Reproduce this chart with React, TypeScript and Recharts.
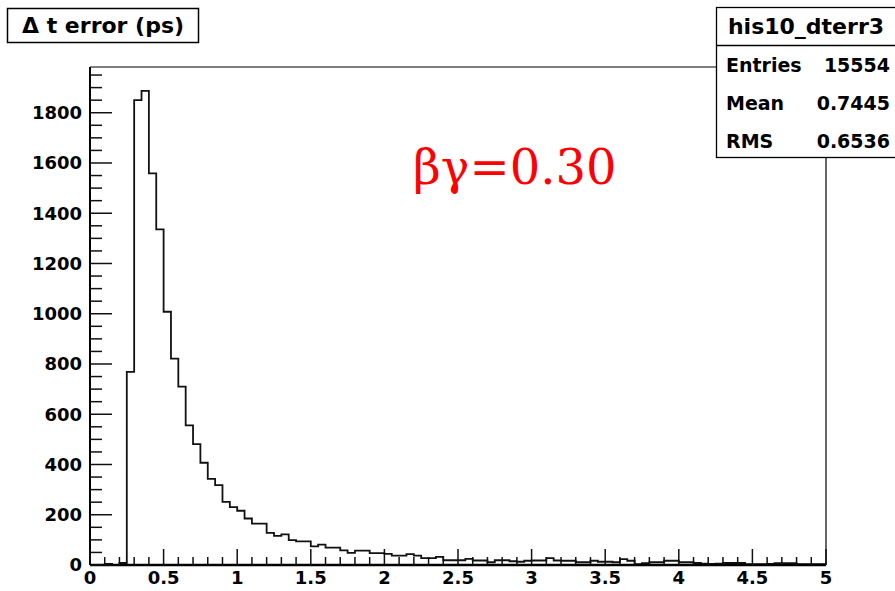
import { LineChart, Line, XAxis, YAxis, ReferenceLine } from 'recharts'

// bin contents of his10_dterr3, 100 bins of 0.05 from 0 to 5
const COUNTS = [
  0, 0, 4, 0, 8, 769, 1850, 1887, 1559, 1336,
  1008, 821, 710, 556, 481, 407, 343, 318, 251, 230,
  216, 185, 165, 165, 128, 116, 122, 99, 94, 94,
  74, 81, 69, 69, 58, 48, 57, 57, 47, 47,
  44, 37, 37, 43, 37, 27, 27, 32, 19, 19,
  19, 24, 18, 18, 11, 19, 19, 15, 13, 17,
  18, 18, 27, 18, 17, 17, 11, 11, 17, 13,
  13, 11, 23, 17, 3, 7, 11, 11, 17, 17,
  11, 11, 8, 5, 4, 5, 8, 8, 8, 3,
  3, 3, 4, 7, 7, 7, 3, 3, 3, 3,
]
const BIN_WIDTH = 0.05
const X_MAJOR = [0, 0.5, 1, 1.5, 2, 2.5, 3, 3.5, 4, 4.5, 5]
const Y_MAJOR = [0, 200, 400, 600, 800, 1000, 1200, 1400, 1600, 1800]
const Y_MAX = 1982

const STATS = [
  { label: 'Entries', value: '15554' },
  { label: 'Mean', value: '0.7445' },
  { label: 'RMS', value: '0.6536' },
]

const data = [
  ...COUNTS.map((c, i) => ({ x: +(i * BIN_WIDTH).toFixed(2), count: c })),
  { x: 5, count: COUNTS[COUNTS.length - 1] },
]

// minor ticks: 0.1 on x, 50 on y
const xTicks = Array.from({ length: 51 }, (_, i) => +(i * 0.1).toFixed(1))
const yTicks = Array.from({ length: 40 }, (_, i) => i * 50)

const FONT = '"DejaVu Sans", sans-serif'

const XTick = (props: any) => {
  const { x, y, payload } = props
  const v = payload.value
  const major = X_MAJOR.some((m) => Math.abs(m - v) < 1e-6)
  return (
    <g>
      <line x1={x} y1={y} x2={x} y2={y - (major ? 16 : 8)} stroke="#111" strokeWidth={1.5} />
      {major && (
        <text x={x} y={y + 19} textAnchor="middle" fontFamily={FONT} fontWeight="bold" fontSize={18} fill="#000">
          {String(v)}
        </text>
      )}
    </g>
  )
}

const YTick = (props: any) => {
  const { x, y, payload } = props
  const v = payload.value
  const major = Y_MAJOR.includes(v)
  return (
    <g>
      <line x1={x} y1={y} x2={x + (major ? 22 : 12)} y2={y} stroke="#111" strokeWidth={1.5} />
      {major && (
        <text x={x - 8} y={y} dy="0.36em" textAnchor="end" fontFamily={FONT} fontWeight="bold" fontSize={18} fill="#000">
          {String(v)}
        </text>
      )}
    </g>
  )
}

export default function App() {
  return (
    <div style={{ position: 'absolute', left: 0, top: 0, width: 895, height: 591, background: '#fff' }}>
      <LineChart
        width={895}
        height={591}
        data={data}
        margin={{ top: 67, right: 69, bottom: 0, left: 10 }}
      >
        <XAxis
          dataKey="x"
          type="number"
          domain={[0, 5]}
          ticks={xTicks}
          interval={0}
          height={26}
          tickSize={0}
          tickMargin={0}
          tickLine={false}
          tick={<XTick />}
          axisLine={{ stroke: '#000', strokeWidth: 2.5 }}
        />
        <YAxis
          type="number"
          domain={[0, Y_MAX]}
          ticks={yTicks}
          interval={0}
          width={80}
          tickSize={0}
          tickMargin={0}
          tickLine={false}
          tick={<YTick />}
          axisLine={{ stroke: '#000', strokeWidth: 2 }}
        />
        <ReferenceLine y={Y_MAX} stroke="#000" strokeWidth={1.2} />
        <ReferenceLine x={5} stroke="#000" strokeWidth={1.2} />
        <Line
          dataKey="count"
          type="stepAfter"
          stroke="#111"
          strokeWidth={1.8}
          dot={false}
          isAnimationActive={false}
        />
      </LineChart>

      <svg
        width={895}
        height={591}
        style={{ position: 'absolute', left: 0, top: 0, pointerEvents: 'none' }}
      >
        {/* title box */}
        <rect x={7.5} y={8.5} width={191} height={34} fill="#fff" stroke="#000" strokeWidth={1.5} />
        <text x={22} y={33} fontFamily={FONT} fontWeight="bold" fontSize={22} fill="#000">
          Δ t error (ps)
        </text>

        {/* stats box */}
        <rect x={716.5} y={7.5} width={180} height={150} fill="#fff" stroke="#000" strokeWidth={1.3} />
        <line x1={716} y1={45.5} x2={895} y2={45.5} stroke="#000" strokeWidth={1.3} />
        <text x={806} y={34} textAnchor="middle" fontFamily={FONT} fontWeight="bold" fontSize={22} fill="#000">
          his10_dterr3
        </text>
        {STATS.map((s, i) => (
          <g key={s.label}>
            <text x={726} y={72 + i * 38} fontFamily={FONT} fontWeight="bold" fontSize={19} fill="#000">
              {s.label}
            </text>
            <text x={890} y={72 + i * 38} textAnchor="end" fontFamily={FONT} fontWeight="bold" fontSize={19} fill="#000">
              {s.value}
            </text>
          </g>
        ))}

        <text x={413} y={184} fontFamily={'"DejaVu Serif", serif'} fontSize={48} fill="#f00">
          βγ=0.30
        </text>
      </svg>
    </div>
  )
}
